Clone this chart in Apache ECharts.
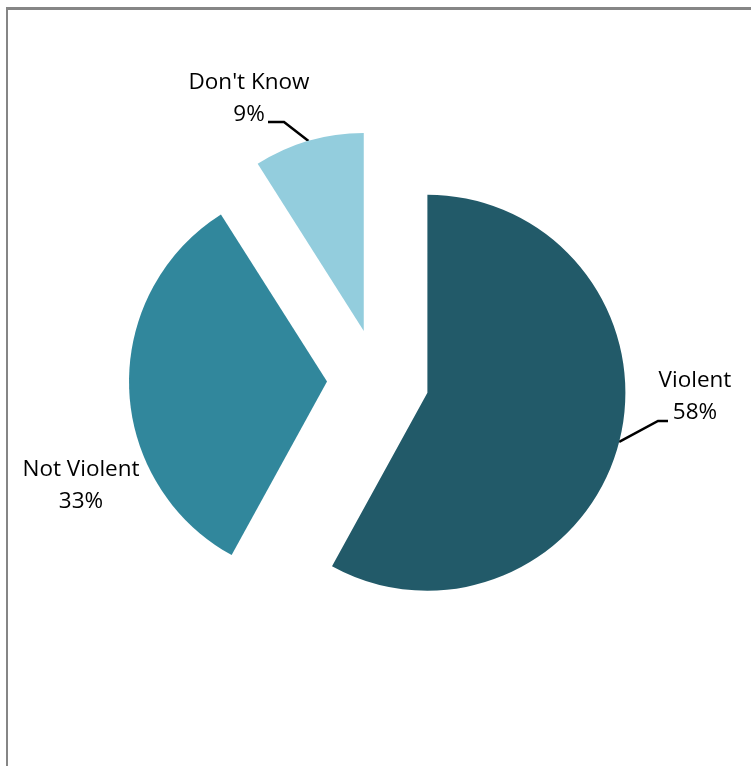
<!DOCTYPE html>
<html lang="en">
<head>
    <meta charset="UTF-8">
    <title>violent-pie</title>
    <script src="https://cdn.jsdelivr.net/npm/echarts@6/dist/echarts.min.js"></script>
    <style>
        html, body { margin: 0; padding: 0; background: #fff; overflow: hidden; }
        #frame { position: absolute; left: 6px; top: 7px; width: 900px; height: 900px;
                 border-top: 3px solid #868686; border-left: 2px solid #868686; }
        #main { position: absolute; left: 0; top: 0; width: 751px; height: 766px; }
    </style>
</head>
<body>
<div id="frame"></div>
<div id="main"></div>
<script>
    // 数据
    var categories = ["Violent", "Not Violent", "Don't Know"];
    var percents = [58, 33, 9];
    var colors = ["#225A69", "#31879C", "#93CDDD"];
    // 标签位置 (中心点) 和引导线折点 (相对标签中心)
    var labelPos = [[695, 397], [81, 486], [249, 99]];
    var lineTurn = [[-37, 24], null, [35, 23]];
    var lineEnd = [[-27, 24], null, [19, 23]];
    var OFFSET = 51;

    // 每块扇区的偏移 (选中状态)
    var total = percents.reduce(function (a, b) { return a + b; }, 0);
    var acc = 0;
    var sliceShift = percents.map(function (v) {
        var mid = (acc + v / 2) / total * Math.PI * 2;
        acc += v;
        return [Math.sin(mid) * OFFSET, -Math.cos(mid) * OFFSET];
    });

    var chart = echarts.init(document.getElementById("main"));

    var pieData = categories.map(function (name, i) {
        return {
            name: name,
            value: percents[i],
            selected: true,
            itemStyle: { color: colors[i] },
            labelLine: { show: lineEnd[i] !== null }
        };
    });

    var option = {
        backgroundColor: 'transparent',
        animation: false,
        series: [{
            type: 'pie',
            center: [378, 380],
            radius: 198,
            startAngle: 90,
            clockwise: true,
            selectedMode: 'multiple',
            selectedOffset: OFFSET,
            avoidLabelOverlap: false,
            silent: true,
            label: {
                show: true,
                position: 'outside',
                formatter: function (p) {
                    return '{c|' + p.name + '}\n{c|' + p.value + '%}';
                },
                rich: {
                    c: {
                        fontFamily: 'Open Sans',
                        fontSize: 22.5,
                        color: '#000',
                        width: 140,
                        align: 'center',
                        lineHeight: 32
                    }
                }
            },
            labelLine: {
                show: true,
                length: 20,
                length2: 12,
                lineStyle: { color: '#000', width: 2.5 }
            },
            labelLayout: function (p) {
                var i = p.dataIndex;
                var s = sliceShift[i];
                var cx = labelPos[i][0] - s[0];
                var cy = labelPos[i][1] - s[1];
                var r = p.labelRect;
                var res = {
                    dx: cx - (r.x + r.width / 2),
                    dy: cy - (r.y + r.height / 2)
                };
                if (lineEnd[i] && p.labelLinePoints) {
                    res.labelLinePoints = [
                        p.labelLinePoints[0],
                        [cx + lineTurn[i][0], cy + lineTurn[i][1]],
                        [cx + lineEnd[i][0], cy + lineEnd[i][1]]
                    ];
                }
                return res;
            },
            data: pieData
        }]
    };
    chart.setOption(option);
</script>
</body>
</html>
